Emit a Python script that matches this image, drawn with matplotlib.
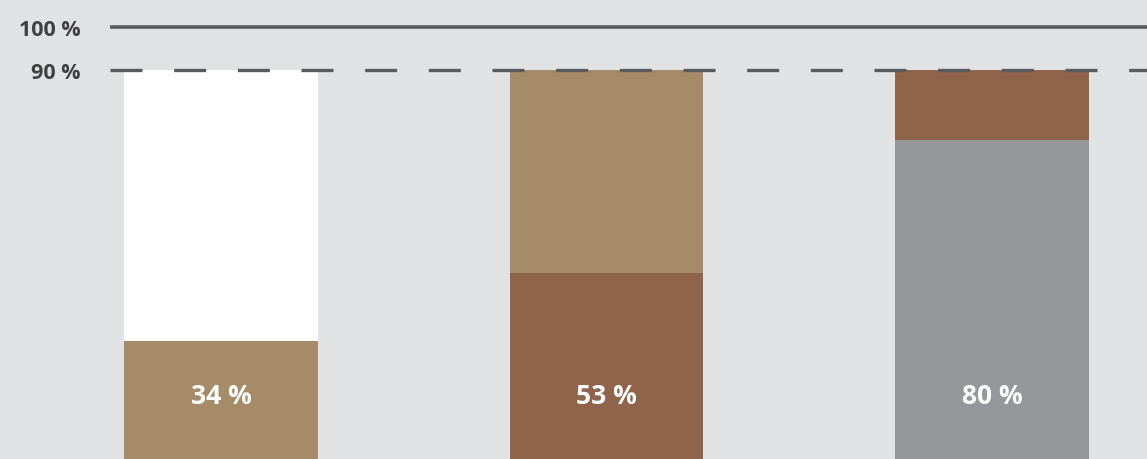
import matplotlib.pyplot as plt

# visual heights of the stacked segments (axis in %)
groups = ["A", "B", "C"]
lower = [27.3, 43.0, 73.8]
cap = [90, 90, 90]
labels = ["34 %", "53 %", "80 %"]
lower_colors = ["#A68B69", "#8F644B", "#96979B"]
upper_colors = ["#FFFFFF", "#A68B69", "#8F644B"]
ticks = [90, 100]
tick_labels = ["90 %", "100 %"]

bg = "#E1E2E4"
line_col = "#5A5B5D"

fig = plt.figure(figsize=(11.47, 4.6), dpi=100, facecolor=bg)
ax = fig.add_axes([110 / 1147, 0, 1 - 110 / 1147, 1])
ax.set_facecolor(bg)

x = list(range(len(groups)))
upper = [c - l for c, l in zip(cap, lower)]
w = 0.503
ax.bar(x, lower, width=w, color=lower_colors, zorder=2)
ax.bar(x, upper, bottom=lower, width=w, color=upper_colors, zorder=2)

ax.axhline(100, color=line_col, lw=2.6, zorder=3)
ax.axhline(90, color=line_col, lw=2.4, dashes=(9.6, 9.5), zorder=3)

for xi, lab in zip(x, labels):
    ax.text(xi, 14.6, lab, ha="center", va="center", color="white",
            fontsize=19, fontweight="bold", family="Open Sans")

ax.set_xlim(-0.288, 2.402)
ax.set_ylim(0, 106.4)
ax.set_yticks(ticks)
ax.set_yticklabels(tick_labels, fontsize=15.5, fontweight="bold",
                   family="Open Sans", color="#404040")
ax.tick_params(axis="y", length=0, pad=21)
ax.set_xticks([])
for s in ax.spines.values():
    s.set_visible(False)

fig.savefig("out.png", dpi=100, facecolor=bg)
